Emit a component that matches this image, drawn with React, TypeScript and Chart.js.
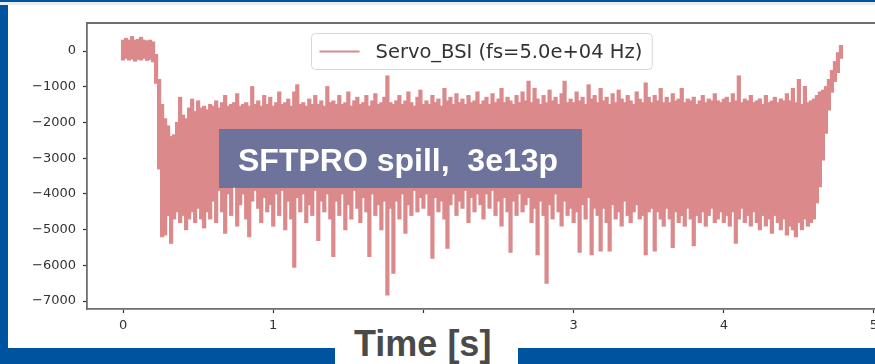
import { useEffect, useRef } from 'react';
import { Chart, registerables } from 'chart.js';

Chart.register(...registerables);

// ---------- data ----------
const LEGEND_LABEL = 'Servo_BSI (fs=5.0e+04 Hz)';
const OVERLAY_TEXT = 'SFTPRO spill,  3e13p';
const AXIS_TITLE = 'Time [s]';
const X_TICKS = [0, 1, 2, 3, 4, 5];
const Y_TICKS = [0, -1000, -2000, -3000, -4000, -5000, -6000, -7000];
const X_RANGE = [-0.24, 5.0067];
const Y_RANGE = [-7224, 784];
const SAMPLE_STEP = 0.02; // seconds per envelope column

// upper envelope of the signal per column
const SIGNAL_MAX = [
  300, 350, 300, 400, 300, 320, 380, 300, 280, 300,
  250, -100, -800, -1500, -1900, -2100, -2400, -2350, -2000, -1300,
  -1800, -1900, -1600, -1350, -1700, -1400, -1600, -1550, -1650, -1500,
  -1550, -1400, -1600, -1450, -1250, -1550, -1500, -1450, -1200, -1550,
  -1500, -1450, -1550, -1000, -1500, -1400, -1550, -1250, -1500, -1300,
  -1550, -1450, -1150, -1500, -1450, -1350, -1550, -1150, -950, -1500,
  -1450, -1550, -1350, -1500, -1250, -1500, -1400, -1550, -1000, -1450,
  -1400, -1500, -1250, -1500, -1450, -1150, -1550, -1400, -1300, -1500,
  -1450, -1250, -1550, -1400, -1200, -1500, -1450, -1300, -700, -1450,
  -1500, -1400, -1250, -1500, -1400, -1150, -1450, -1550, -1300, -1100,
  -1500, -1400, -1500, -1250, -1450, -1350, -1550, -1050, -1400, -1300,
  -1500, -1200, -1450, -1350, -1500, -1250, -1450, -1400, -1150, -1500,
  -1400, -1300, -1500, -1200, -1450, -1350, -1050, -1450, -1300, -1400,
  -1500, -1250, -1450, -1150, -1400, -850, -1450, -1050, -1350, -1500,
  -1250, -1450, -1100, -1400, -1300, -1500, -1200, -850, -1450, -1350,
  -1450, -1150, -1400, -1300, -1500, -950, -1350, -1250, -1450, -1050,
  -1400, -1300, -1500, -1200, -1450, -1100, -1350, -1450, -1250, -1400,
  -1500, -1150, -1350, -1450, -900, -1300, -1450, -1250, -1400, -1050,
  -1450, -1300, -1450, -1200, -1400, -1350, -1050, -1450, -1350, -1400,
  -1300, -1500, -1400, -1250, -1450, -1350, -1400, -1200, -1400, -1450,
  -1350, -1300, -1450, -1200, -1400, -700, -1450, -1350, -1400, -1250,
  -1450, -1400, -1350, -1500, -1250, -1450, -1400, -1300, -1450, -1350,
  -1400, -1200, -1400, -1050, -1450, -800, -1500, -1000, -1450, -1400,
  -1350, -1250, -1150, -1100, -1000, -800, -550, -300, -50, 150,
];

// lower envelope of the signal per column
const SIGNAL_MIN = [
  -250, -200, -250, -220, -280, -230, -250, -200, -260, -230,
  -300, -900, -3300, -5200, -5150, -4600, -5380, -4700, -4500, -4800,
  -4600, -5000, -4700, -4500, -4800, -4400, -4700, -4950, -4500, -4700,
  -4200, -4800, -3900, -4500, -5100, -4000, -4600, -3800, -4900, -4300,
  -4000, -4700, -5200, -4200, -3900, -4400, -4800, -4100, -4500, -4300,
  -4900, -4000, -4600, -3900, -5000, -4200, -4700, -6050, -4100, -4500,
  -4000, -4800, -4300, -4600, -3900, -5300, -4200, -4500, -4000, -4700,
  -5750, -4200, -4600, -4000, -5000, -4300, -4700, -3900, -4400, -4800,
  -4100, -4500, -5750, -4000, -4600, -4300, -5000, -4200, -6830, -4400,
  -6220, -4200, -4700, -4000, -5100, -4300, -4600, -3900, -4500, -4100,
  -4400, -4000, -4600, -5800, -4100, -4500, -4200, -4700, -5520, -4300,
  -4000, -4600, -4200, -4400, -3900, -4800, -4100, -4500, -4000, -4300,
  -4700, -4000, -4400, -3900, -4600, -4200, -4900, -4100, -4500, -5630,
  -4200, -4600, -4000, -4500, -4300, -4100, -4800, -4400, -5700, -4200,
  -4600, -6500, -4300, -4700, -4000, -4500, -4900, -4200, -4600, -4400,
  -4800, -4500, -5630, -4300, -4700, -4100, -5700, -4400, -4600, -5600,
  -4400, -4800, -5600, -4300, -4700, -4500, -4900, -4200, -4600, -4800,
  -4500, -4300, -4700, -4600, -5700, -4500, -4400, -5600, -4500, -4700,
  -4900, -4400, -4700, -5500, -4500, -4800, -4600, -4900, -4400, -4700,
  -5450, -4600, -4800, -4500, -4900, -4600, -4400, -4800, -4700, -4500,
  -4800, -4600, -4900, -4500, -5380, -4700, -4400, -4800, -4600, -4900,
  -4500, -4800, -5000, -4600, -4900, -4700, -5100, -4600, -4800, -5000,
  -4700, -5150, -4900, -5000, -5200, -4800, -5000, -4700, -4900, -4800,
  -4700, -4250, -3800, -3050, -2300, -1650, -1150, -850, -600, -200,
];

// ---------- styles ----------
const SIGNAL_COLOR = '#db898b';
const SLIDE_BLUE = '#00549f';
const TICK_COLOR = '#333333';
const SPINE_COLOR = '#6e6e6e';

const fmt = (v: number) => (v < 0 ? '\u2212' + Math.abs(v) : String(v));

const framePlugin = {
  id: 'frameAndLegend',
  afterDraw(chart: any) {
    const { ctx, chartArea } = chart;
    ctx.save();
    // top spine
    ctx.strokeStyle = SPINE_COLOR;
    ctx.lineWidth = 1.8;
    ctx.beginPath();
    ctx.moveTo(chartArea.left, chartArea.top);
    ctx.lineTo(chartArea.right, chartArea.top);
    ctx.stroke();

    // legend (upper center, framed)
    const label = chart.data.datasets[0].label as string;
    ctx.font = '19.5px "DejaVu Sans"';
    const tw = ctx.measureText(label).width;
    const w = 8 + 40 + 17 + tw + 9;
    const h = 36;
    const cx = (chartArea.left + chartArea.right) / 2;
    const x0 = Math.round(cx - w / 2) + 0.5;
    const y0 = chartArea.top + 10.5;
    ctx.beginPath();
    (ctx as any).roundRect(x0, y0, w, h, 4);
    ctx.fillStyle = 'rgba(255,255,255,0.8)';
    ctx.fill();
    ctx.strokeStyle = '#d6d6d6';
    ctx.lineWidth = 1;
    ctx.stroke();
    ctx.strokeStyle = SIGNAL_COLOR;
    ctx.lineWidth = 2;
    ctx.beginPath();
    ctx.moveTo(x0 + 8, y0 + h / 2);
    ctx.lineTo(x0 + 48, y0 + h / 2);
    ctx.stroke();
    ctx.fillStyle = '#333333';
    ctx.textBaseline = 'middle';
    ctx.textAlign = 'left';
    ctx.fillText(label, x0 + 64, y0 + h / 2 + 1);
    ctx.restore();
  },
};

export default function App() {
  const canvasRef = useRef<HTMLCanvasElement | null>(null);

  useEffect(() => {
    if (!canvasRef.current) return;
    const data = SIGNAL_MAX.map((hi, i) => ({ x: i * SAMPLE_STEP, y: [SIGNAL_MIN[i], hi] }));
    const chart = new Chart(canvasRef.current, {
      type: 'bar',
      data: {
        datasets: [
          {
            label: LEGEND_LABEL,
            data: data as any,
            backgroundColor: SIGNAL_COLOR,
            borderWidth: 0,
            barPercentage: 1,
            categoryPercentage: 1,
            inflateAmount: 0.6,
          } as any,
        ],
      },
      options: {
        responsive: false,
        animation: false,
        devicePixelRatio: 1,
        layout: { padding: { top: 23, left: 0, right: 0, bottom: 0 } },
        plugins: { legend: { display: false }, tooltip: { enabled: false } },
        scales: {
          x: {
            type: 'linear',
            min: X_RANGE[0],
            max: X_RANGE[1],
            offset: false,
            grid: {
              display: true,
              offset: false,
              drawOnChartArea: false,
              drawTicks: true,
              tickLength: 4,
              tickColor: '#333',
              tickWidth: 1.2,
            },
            border: { display: true, color: SPINE_COLOR, width: 1.8 },
            ticks: {
              color: TICK_COLOR,
              font: { family: 'DejaVu Sans', size: 13 },
              padding: 5,
              maxRotation: 0,
              autoSkip: false,
              includeBounds: false,
              callback: (v: any) => fmt(Number(v)),
            },
            afterBuildTicks: (s: any) => {
              s.ticks = X_TICKS.map((v) => ({ value: v }));
            },
            afterFit: (s: any) => {
              s.height = 55;
              s.paddingLeft = 0;
              s.paddingRight = 0;
            },
          } as any,
          y: {
            type: 'linear',
            min: Y_RANGE[0],
            max: Y_RANGE[1],
            grid: {
              display: true,
              drawOnChartArea: false,
              drawTicks: true,
              tickLength: 4,
              tickColor: '#333',
              tickWidth: 1.2,
            },
            border: { display: true, color: SPINE_COLOR, width: 1.8 },
            ticks: {
              color: TICK_COLOR,
              font: { family: 'DejaVu Sans', size: 13 },
              padding: 7,
              autoSkip: false,
              includeBounds: false,
              callback: (v: any) => fmt(Number(v)),
            },
            afterBuildTicks: (s: any) => {
              s.ticks = Y_TICKS.map((v) => ({ value: v }));
            },
            afterFit: (s: any) => {
              s.width = 87;
              s.paddingTop = 0;
              s.paddingBottom = 0;
            },
          } as any,
        },
      },
      plugins: [framePlugin],
    });
    return () => chart.destroy();
  }, []);

  return (
    <div
      style={{
        position: 'fixed',
        left: 0,
        top: 0,
        width: 875,
        height: 364,
        overflow: 'hidden',
        background: '#ffffff',
      }}
    >
      <canvas ref={canvasRef} width={875} height={364} style={{ position: 'absolute', left: 0, top: 0, display: 'block' }} />
      {/* slide frame */}
      <div style={{ position: 'absolute', left: 0, top: 0, width: 875, height: 2, background: SLIDE_BLUE }} />
      <div style={{ position: 'absolute', left: 0, top: 2, width: 875, height: 3, background: '#e9ecef' }} />
      <div style={{ position: 'absolute', left: 0, top: 5, width: 8, height: 359, background: SLIDE_BLUE }} />
      <div style={{ position: 'absolute', left: 0, top: 348, width: 875, height: 16, background: SLIDE_BLUE }} />
      <div style={{ position: 'absolute', left: 335, top: 315, width: 183, height: 49, background: '#ffffff' }} />
      <div
        style={{
          position: 'absolute',
          left: 354,
          top: 326,
          fontFamily: '"Liberation Sans", Arial, sans-serif',
          fontWeight: 'bold',
          fontSize: 36,
          lineHeight: '36px',
          color: '#4a4a4a',
          whiteSpace: 'pre',
        }}
      >
        {AXIS_TITLE}
      </div>
      {/* annotation box */}
      <div
        style={{
          position: 'absolute',
          left: 219,
          top: 129,
          width: 363,
          height: 59,
          background: 'rgba(35,100,165,0.6)',
        }}
      />
      <div
        style={{
          position: 'absolute',
          left: 238,
          top: 144,
          fontFamily: '"Liberation Sans", Arial, sans-serif',
          fontWeight: 'bold',
          fontSize: 32,
          lineHeight: '32px',
          color: '#ffffff',
          whiteSpace: 'pre',
        }}
      >
        {OVERLAY_TEXT}
      </div>
    </div>
  );
}
